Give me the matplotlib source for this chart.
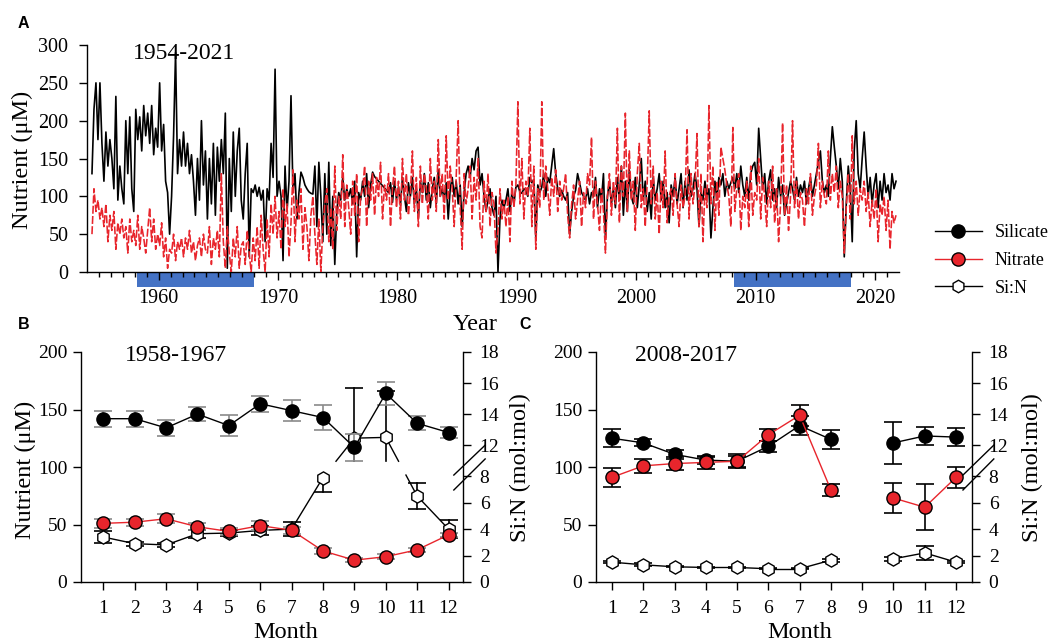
import matplotlib
matplotlib.use('Agg')
import matplotlib.pyplot as plt
import matplotlib.transforms as mtransforms
from matplotlib.patches import Rectangle
from matplotlib.lines import Line2D
import numpy as np

plt.rcParams['font.family'] = ['Liberation Serif', 'DejaVu Serif']

# ---------------- data: panel A (bi-monthly samples, 6 per year, 1954-2021) -------------
series_start = 1954
samples_per_year = 6
silicate_ts = [
    None, None, 130, 215, 250, 175,   # 1954
    250, 170, 120, 185, 140, 175,     # 1955
    150, 110, 232, 95, 140, 110,      # 1956
    90, 200, 130, 205, 110, 80,       # 1957
    215, 175, 205, 160, 220, 180,     # 1958
    210, 170, 220, 155, 190, 165,     # 1959
    250, 160, 195, 120, 105, 50,      # 1960
    100, 180, 290, 130, 175, 140,     # 1961
    185, 140, 170, 130, 155, 120,     # 1962
    75, 150, 95, 200, 115, 160,       # 1963
    70, 150, 90, 170, 75, 165,        # 1964
    120, 175, 130, 210, 5, 150,       # 1965
    80, 185, 100, 160, 190, 95,       # 1966
    70, 130, 170, 20, 110, 105,       # 1967
    115, 100, 112, 95, 108, 40,       # 1968
    110, 95, 170, 125, 268, 100,      # 1969
    120, 100, 15, 140, 80, 120,       # 1970
    233, 105, 130, 70, 105, 132,      # 1971
    125, 115, 110, 106, 104, 103,     # 1972
    140, 60, 145, 100, 40, 130,       # 1973
    50, 145, 35, 100, 10, 80,         # 1974
    105, 95, 125, 95, 110, 100,       # 1975
    110, 90, 120, 20, 105, 95,        # 1976
    120, 100, 130, 85, 115, 132,      # 1977
    126, None, None, None, None, None,  # 1978
    None, 105, 118, 92, 120, 96,      # 1979
    112, 88, 125, 100, 80, 118,       # 1980
    100, 125, 90, 110, 72, 120,       # 1981
    105, 130, 95, 118, 85, 110,       # 1982
    125, 90, 135, 100, 110, 95,       # 1983
    118, 70, 110, 125, 100, 120,      # 1984
    90, 115, 60, 105, 130, 140,       # 1985
    125, 150, 135, 160, 165, 115,     # 1986
    130, 100, 80, 95, 110, 85,        # 1987
    75, 100, 0, 70, 95, 85,           # 1988
    95, 110, 80, 105, 90, 112,        # 1989
    115, 106, 104, 110, 108, 100,     # 1990
    125, 118, 122, 45, 115, 105,      # 1991
    112, 130, 100, 125, 118, 140,     # 1992
    163, 130, 110, 100, 108, 100,     # 1993
    95, 105, 50, 80, 100, 108,        # 1994
    130, 118, 105, 100, 95, 110,      # 1995
    90, 105, 100, 125, 85, 110,       # 1996
    95, 130, 45, 100, 120, 90,        # 1997
    110, 85, 125, 95, 140, 75,        # 1998
    120, 80, 135, 100, 90, 125,       # 1999
    85, 115, 150, 95, 120, 80,        # 2000
    105, 70, 125, 95, 110, 130,       # 2001
    95, 120, 85, 105, 65, 115,        # 2002
    100, 125, 90, 110, 130, 85,       # 2003
    120, 95, 135, 100, 110, 130,      # 2004
    110, 60, 105, 95, 120, 100,       # 2005
    110, 45, 85, 120, 95, 125,        # 2006
    115, 130, 100, 120, 110, 118,     # 2007
    125, 110, 130, 105, 140, 115,     # 2008
    100, 125, 95, 130, 140, 145,      # 2009
    115, 190, 150, 110, 130, 90,      # 2010
    120, 135, 95, 110, 85, 125,       # 2011
    100, 115, 75, 90, 105, 120,       # 2012
    110, 95, 125, 100, 115, 105,      # 2013
    120, 90, 110, 125, 100, 115,      # 2014
    130, 145, 160, 120, 105, 115,     # 2015
    100, 150, 192, 165, 140, 110,     # 2016
    150, 120, 20, 90, 140, 110,       # 2017
    40, 160, 200, 130, 110, 150,      # 2018
    185, 140, 100, 125, 90, 115,      # 2019
    130, 85, 120, 95, 130, 105,       # 2020
    115, 95, 130, 110, 120, None,     # 2021
]
nitrate_ts = [
    None, None, 50, 110, 80, 95,      # 1954
    70, 85, 60, 90, 40, 75,           # 1955
    55, 80, 30, 65, 50, 70,           # 1956
    45, 60, 25, 70, 40, 55,           # 1957
    35, 75, 30, 60, 45, 25,           # 1958
    55, 85, 40, 70, 30, 50,           # 1959
    35, 65, 20, 45, 5, 30,            # 1960
    25, 50, 15, 40, 30, 45,           # 1961
    20, 45, 30, 55, 25, 40,           # 1962
    15, 35, 45, 20, 50, 30,           # 1963
    25, 60, 10, 45, 30, 55,           # 1964
    20, 130, 40, 5, 60, 25,           # 1965
    0, 45, 20, 60, 5, 35,             # 1966
    40, 10, 55, 25, 0, 45,            # 1967
    15, 60, 5, 75, 30, 0,             # 1968
    70, 20, 90, 50, 100, 45,          # 1969
    80, 30, 110, 60, 90, 20,          # 1970
    65, 135, 40, 95, 70, 110,         # 1971
    30, 85, 60, 15, 75, 100,          # 1972
    50, 10, 70, 0, 60, 90,            # 1973
    110, 40, 85, 30, 140, 55,         # 1974
    100, 70, 155, 60, 115, 85,        # 1975
    50, 120, 75, 130, 40, 100,        # 1976
    110, 140, 60, 120, 95, 130,       # 1977
    75, 125, 100, 145, 70, 115,       # 1978
    95, 130, 60, 110, 140, 85,        # 1979
    120, 70, 150, 95, 130, 75,        # 1980
    105, 160, 80, 125, 60, 140,       # 1981
    90, 130, 110, 70, 150, 95,        # 1982
    120, 80, 175, 100, 130, 70,       # 1983
    180, 95, 140, 110, 60, 125,       # 1984
    200, 85, 30, 130, 90, 110,        # 1985
    140, 70, 125, 95, 150, 60,        # 1986
    45, 120, 80, 130, 60, 105,        # 1987
    90, 25, 55, 110, 70, 95,          # 1988
    60, 100, 40, 120, 85, 115,        # 1989
    225, 90, 150, 70, 120, 100,       # 1990
    190, 60, 140, 30, 110, 85,        # 1991
    225, 95, 140, 110, 75, 125,       # 1992
    100, 135, 80, 120, 95, 110,       # 1993
    130, 75, 45, 90, 115, 70,         # 1994
    95, 120, 60, 105, 85, 130,        # 1995
    115, 178, 70, 120, 90, 55,        # 1996
    110, 80, 25, 100, 130, 75,        # 1997
    120, 90, 190, 65, 140, 100,       # 1998
    210, 80, 160, 95, 120, 55,        # 1999
    130, 170, 85, 110, 60, 120,       # 2000
    213, 90, 140, 70, 105, 50,        # 2001
    120, 85, 160, 65, 100, 110,       # 2002
    75, 130, 90, 60, 115, 85,         # 2003
    100, 188, 70, 130, 90, 115,       # 2004
    183, 60, 130, 40, 110, 85,        # 2005
    220, 90, 140, 55, 120, 75,        # 2006
    165, 150, 135, 115, 100, 60,      # 2007
    191, 80, 110, 130, 55, 100,       # 2008
    85, 120, 60, 140, 75, 105,        # 2009
    95, 150, 70, 125, 100, 60,        # 2010
    120, 85, 140, 65, 110, 40,        # 2011
    90, 197, 75, 115, 55, 100,        # 2012
    200, 85, 120, 70, 105, 95,        # 2013
    60, 110, 90, 130, 75, 100,        # 2014
    115, 170, 85, 120, 100, 90,       # 2015
    160, 95, 130, 105, 140, 85,       # 2016
    120, 100, 25, 85, 130, 70,        # 2017
    180, 90, 120, 75, 110, 95,        # 2018
    120, 80, 105, 60, 95, 70,         # 2019
    110, 40, 90, 75, 100, 55,         # 2020
    95, 30, 80, 65, 75, None,         # 2021
]
period_start = [1958.2, 2008.2]
period_end = [1968.0, 2018.0]

# ---------------- data: panels B and C (monthly climatology) ----------------
months = [1, 2, 3, 4, 5, 6, 7, 8, 9, 10, 11, 12]
nan = np.nan
B_silicate = [142, 142, 134, 146, 136, 155, 149, 143, 117, 164, 138, 130]
B_silicate_err = [7, 7, 7, 6, 9, 7, 9, 11, 12, 10, 6, 5]
B_nitrate = [51, 52, 55, 48, 44, 49, 45, 27, 19, 22, 28, 41]
B_nitrate_err = [4, 3, 4, 3, 3, 4, 3, 3, 2, 2, 2, 2]
B_sin = [3.4, 2.9, 2.8, 3.65, 3.7, 3.9, 4.0, 7.9, 12.45, 12.5, 6.5, 4.0]
B_sin_err = [0.45, 0.15, 0.15, 0.3, 0.2, 0.35, 0.5, 1.1, 3.2, 3.0, 1.0, 0.7]

C_silicate = [125, 121, 111, 106, 105, 118, 136, 124, nan, 121, 127, 126]
C_silicate_err = [8, 3, 4, 3, 5, 5, 8, 8, nan, 18, 8, 8]
C_nitrate = [91, 101, 103, 104, 105, 128, 145, 80, nan, 73, 65, 91]
C_nitrate_err = [8, 6, 6, 6, 6, 5, 9, 5, nan, 13, 20, 9]
C_sin = [1.5, 1.3, 1.15, 1.1, 1.1, 1.0, 1.0, 1.65, nan, 1.75, 2.2, 1.5]
C_sin_err = [0.1, 0.1, 0.05, 0.05, 0.05, 0.05, 0.05, 0.1, nan, 0.15, 0.5, 0.1]

sin_ticks = [0, 2, 4, 6, 8, 12, 14, 16, 18]

# ---------------- style ----------------
RED = '#e8252c'
GRAY = '#8a8a8a'
W, H = 1057, 641
TICK_FS = 14
LABEL_FS = 17.5

fig = plt.figure(figsize=(W / 100, H / 100), dpi=100)


def rect(l, t, r, b):
    return [l / W, 1 - b / H, (r - l) / W, (b - t) / H]


axA = fig.add_axes(rect(87, 45, 899, 272))
axB = fig.add_axes(rect(81, 352, 463, 582))
axC = fig.add_axes(rect(596, 352, 972, 582))

# ---------------- Panel A ----------------
def to_xy(vals):
    t = series_start + (np.arange(len(vals)) + 0.5) / samples_per_year
    keep = [v is not None for v in vals]
    tt = t[keep]
    vv = np.array([v for v in vals if v is not None], float)
    return tt, vv

ts, vs = to_xy(silicate_ts)
tn, vn = to_xy(nitrate_ts)
axA.plot(ts, vs, color='k', lw=1.2, zorder=3)
axA.plot(tn, vn, color=RED, lw=1.15, ls=(0, (5, 1.4)), zorder=4)
axA.set_xlim(1954, 2022)
axA.set_ylim(0, 300)
axA.set_yticks(np.arange(0, 301, 50))
axA.set_xticks(np.arange(1960, 2021, 10))
axA.set_xticks(np.arange(1955, 2022, 1), minor=True)
for s in ['top', 'right']:
    axA.spines[s].set_visible(False)
for s in ['left', 'bottom']:
    axA.spines[s].set_linewidth(1.0)
axA.tick_params(axis='both', which='major', direction='out', length=6, width=1.0,
                labelsize=14.5)
axA.tick_params(axis='x', which='major', pad=6.5)
axA.tick_params(axis='y', which='major', pad=7.5)
axA.tick_params(axis='x', which='minor', direction='out', length=3.8, width=1.0)
trA = mtransforms.blended_transform_factory(axA.transData, axA.transAxes)
for s0, s1 in zip(period_start, period_end):
    axA.add_patch(Rectangle((s0, -0.066), s1 - s0, 0.062, transform=trA,
                            facecolor='#4472c4', edgecolor='none', clip_on=False, zorder=1))
axA.text(0.057, 0.962, '1954-2021', transform=axA.transAxes, fontsize=17,
         ha='left', va='center')

# ---------------- Panels B, C ----------------
GAP_LO, GAP_HI = 93.0, 105.0


def sin_pos(v):
    v = np.asarray(v, float)
    return np.where(v <= 8, v * 11.5, 119 + (v - 12) * 13.5)


def broken_line(ax, x, p, **kw):
    for i in range(len(x) - 1):
        x1, p1, x2, p2 = x[i], p[i], x[i + 1], p[i + 1]
        if np.isnan(p1) or np.isnan(p2):
            continue
        lo1, lo2 = p1 < GAP_LO, p2 < GAP_LO
        if lo1 == lo2:
            ax.plot([x1, x2], [p1, p2], **kw)
        else:
            def at(pp):
                return x1 + (pp - p1) / (p2 - p1) * (x2 - x1)
            if lo1:
                ax.plot([x1, at(GAP_LO)], [p1, GAP_LO], **kw)
                ax.plot([at(GAP_HI), x2], [GAP_HI, p2], **kw)
            else:
                ax.plot([x1, at(GAP_HI)], [p1, GAP_HI], **kw)
                ax.plot([at(GAP_LO), x2], [GAP_LO, p2], **kw)


def sin_errorbars(ax, x, v, e, color, z):
    for xi, vi, ei in zip(x, v, e):
        if np.isnan(vi):
            continue
        top, bot = vi + ei, vi - ei
        cap_top = cap_bot = True
        if vi <= 8:
            pbot = float(sin_pos(bot))
            if top <= 8:
                ptop = float(sin_pos(top))
            else:
                ptop, cap_top = GAP_LO, False
        else:
            ptop = float(sin_pos(top))
            if bot >= 12:
                pbot = float(sin_pos(bot))
            else:
                pbot, cap_bot = GAP_HI, False
        ax.plot([xi, xi], [pbot, ptop], color=color, lw=1.2, zorder=z)
        if cap_top:
            ax.plot([xi], [ptop], marker='_', ms=13, mew=1.2, color=color, zorder=z)
        if cap_bot:
            ax.plot([xi], [pbot], marker='_', ms=13, mew=1.2, color=color, zorder=z)


def monthly_panel(ax, sil, sil_e, nit, nit_e, sin, sin_e, err_color, xlim, title, title_x):
    x = np.array(months, float)
    sil = np.array(sil, float)
    nit = np.array(nit, float)
    sin = np.array(sin, float)
    # Si:N (broken right axis)
    p = sin_pos(sin)
    sin_errorbars(ax, x, sin, np.array(sin_e, float), 'k', 2)
    broken_line(ax, x, p, color='k', lw=1.0, zorder=2)
    ax.plot(x, p, ls='none', marker='h', ms=9.5, mfc='white', mec='k', mew=1.0, zorder=2.5)
    # silicate
    ax.errorbar(x, sil, yerr=sil_e, fmt='none', ecolor=err_color, elinewidth=1.2,
                capsize=6.5, capthick=1.2, zorder=3)
    ax.plot(x, sil, color='k', lw=1.0, zorder=3.2)
    ax.plot(x, sil, ls='none', marker='o', ms=9.5, mfc='k', mec='k', zorder=3.5)
    # nitrate
    ax.errorbar(x, nit, yerr=nit_e, fmt='none', ecolor=err_color, elinewidth=1.2,
                capsize=6.5, capthick=1.2, zorder=4)
    ax.plot(x, nit, color=RED, lw=1.0, zorder=4.2)
    ax.plot(x, nit, ls='none', marker='o', ms=9.5, mfc=RED, mec='k', mew=1.0, zorder=4.5)

    ax.set_xlim(*xlim)
    ax.set_ylim(0, 200)
    ax.set_xticks(months)
    ax.set_yticks(np.arange(0, 201, 50))
    for s in ['top', 'right']:
        ax.spines[s].set_visible(False)
    for s in ['left', 'bottom']:
        ax.spines[s].set_linewidth(1.0)
    ax.tick_params(axis='both', direction='out', length=6, width=1.0, labelsize=TICK_FS)
    ax.tick_params(axis='x', pad=7)
    ax.tick_params(axis='y', pad=4)
    ax.text(title_x, 0.985, title, transform=ax.transAxes, fontsize=17,
            ha='left', va='center')

    ax2 = ax.twinx()
    ax2.set_ylim(0, 200)
    ax2.set_yticks(sin_pos(sin_ticks))
    ax2.set_yticklabels([str(t) for t in sin_ticks])
    for s in ['top', 'left', 'bottom']:
        ax2.spines[s].set_visible(False)
    ax2.spines['right'].set_linewidth(1.0)
    ax2.tick_params(axis='y', direction='out', length=6, width=1.0, labelsize=TICK_FS, pad=6)

    # axis-break marks on right spine
    tr = mtransforms.blended_transform_factory(ax.transAxes, ax.transData)
    for y0, y1 in [(93, 119), (80, 107)]:
        ax.add_line(Line2D([0.976, 1.058], [y0, y1], transform=tr, color='k',
                           lw=1.0, clip_on=False, zorder=6))
    return ax2


monthly_panel(axB, B_silicate, B_silicate_err, B_nitrate, B_nitrate_err, B_sin, B_sin_err,
              GRAY, (0.29, 12.46), '1958-1967', 0.115)
monthly_panel(axC, C_silicate, C_silicate_err, C_nitrate, C_nitrate_err, C_sin, C_sin_err,
              'k', (0.49, 12.51), '2008-2017', 0.105)

# ---------------- labels ----------------
fig.text(22 / W, 1 - 160 / H, 'Nutrient (μM)', rotation=90, ha='center', va='center',
         fontsize=LABEL_FS)
fig.text(25 / W, 1 - 470 / H, 'Nutrient (μM)', rotation=90, ha='center', va='center',
         fontsize=LABEL_FS)
fig.text(520 / W, 1 - 468 / H, 'Si:N (mol:mol)', rotation=90, ha='center', va='center',
         fontsize=LABEL_FS)
fig.text(1032 / W, 1 - 468 / H, 'Si:N (mol:mol)', rotation=90, ha='center', va='center',
         fontsize=LABEL_FS)
fig.text(475 / W, 1 - 324 / H, 'Year', ha='center', va='center', fontsize=LABEL_FS)
fig.text(286 / W, 1 - 632 / H, 'Month', ha='center', va='center', fontsize=LABEL_FS)
fig.text(800 / W, 1 - 632 / H, 'Month', ha='center', va='center', fontsize=LABEL_FS)
for lab, px, py in [('A', 18, 24), ('B', 18, 325), ('C', 519, 325)]:
    fig.text(px / W, 1 - py / H, lab, ha='left', va='center', fontsize=11.5,
             fontweight='bold', family=['Liberation Sans', 'DejaVu Sans'])

# ---------------- legend ----------------
handles = [
    Line2D([], [], color='k', lw=1.0, marker='o', ms=9.5, mfc='k', mec='k'),
    Line2D([], [], color=RED, lw=1.0, marker='o', ms=9.5, mfc=RED, mec='k'),
    Line2D([], [], color='k', lw=1.0, marker='h', ms=9, mfc='white', mec='k'),
]
fig.legend(handles, ['Silicate', 'Nitrate', 'Si:N'], loc='upper left',
           bbox_to_anchor=(935 / W, 1 - 224 / H), frameon=False, fontsize=13,
           handlelength=2.6, handletextpad=0.7, labelspacing=0.6,
           borderpad=0, borderaxespad=0)

fig.savefig('out.png', dpi=100)
